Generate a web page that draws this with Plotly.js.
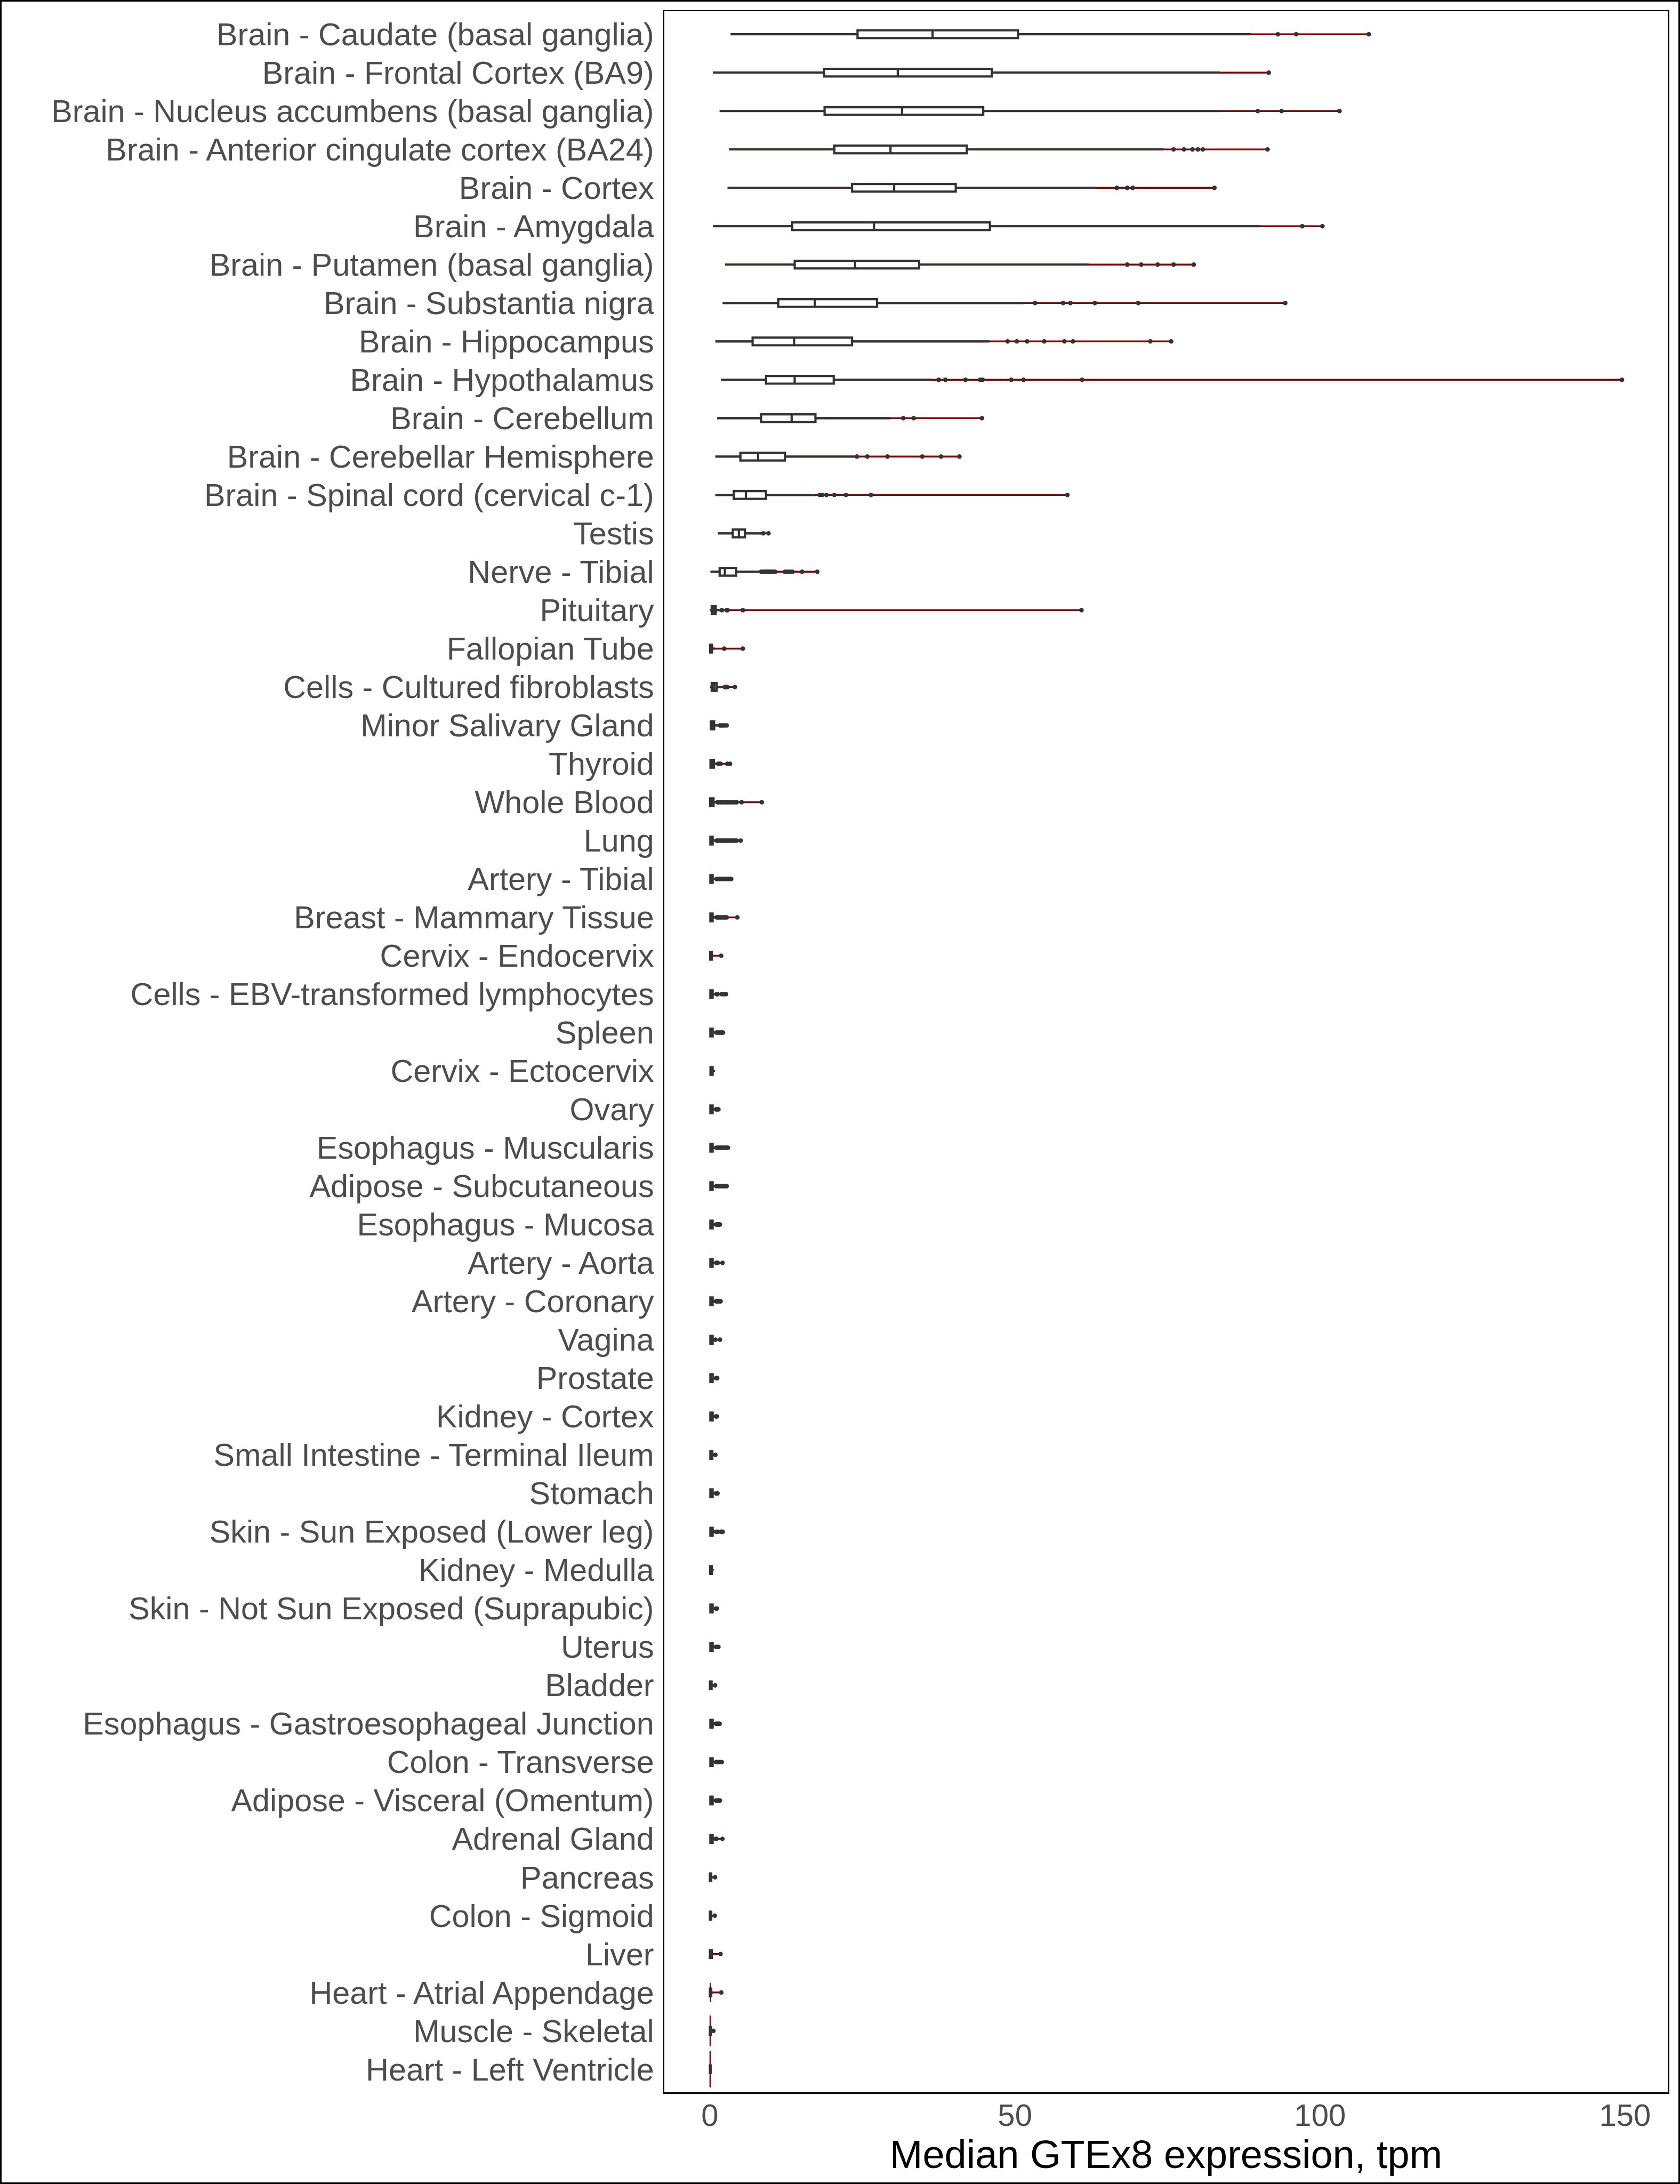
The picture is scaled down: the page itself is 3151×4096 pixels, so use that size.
<!DOCTYPE html>
<html>
<head>
<meta charset="utf-8">
<script src="https://cdn.plot.ly/plotly-3.0.1.min.js"></script>
<style>
html, body { margin: 0; padding: 0; background: #ffffff; }
#chart { width: 3151px; height: 4096px; }
</style>
</head>
<body>
<div id="chart"></div>
<script>
// ---------------- data ----------------
const tissues = [
  "Brain - Caudate (basal ganglia)",
  "Brain - Frontal Cortex (BA9)",
  "Brain - Nucleus accumbens (basal ganglia)",
  "Brain - Anterior cingulate cortex (BA24)",
  "Brain - Cortex",
  "Brain - Amygdala",
  "Brain - Putamen (basal ganglia)",
  "Brain - Substantia nigra",
  "Brain - Hippocampus",
  "Brain - Hypothalamus",
  "Brain - Cerebellum",
  "Brain - Cerebellar Hemisphere",
  "Brain - Spinal cord (cervical c-1)",
  "Testis",
  "Nerve - Tibial",
  "Pituitary",
  "Fallopian Tube",
  "Cells - Cultured fibroblasts",
  "Minor Salivary Gland",
  "Thyroid",
  "Whole Blood",
  "Lung",
  "Artery - Tibial",
  "Breast - Mammary Tissue",
  "Cervix - Endocervix",
  "Cells - EBV-transformed lymphocytes",
  "Spleen",
  "Cervix - Ectocervix",
  "Ovary",
  "Esophagus - Muscularis",
  "Adipose - Subcutaneous",
  "Esophagus - Mucosa",
  "Artery - Aorta",
  "Artery - Coronary",
  "Vagina",
  "Prostate",
  "Kidney - Cortex",
  "Small Intestine - Terminal Ileum",
  "Stomach",
  "Skin - Sun Exposed (Lower leg)",
  "Kidney - Medulla",
  "Skin - Not Sun Exposed (Suprapubic)",
  "Uterus",
  "Bladder",
  "Esophagus - Gastroesophageal Junction",
  "Colon - Transverse",
  "Adipose - Visceral (Omentum)",
  "Adrenal Gland",
  "Pancreas",
  "Colon - Sigmoid",
  "Liver",
  "Heart - Atrial Appendage",
  "Muscle - Skeletal",
  "Heart - Left Ventricle"
];

const minVal = [3.4, 0.5, 1.6, 3.1, 2.9, 0.5, 2.5, 2.1, 0.9, 1.8,
  1.2, 0.9, 0.9, 1.3, 0.1, 0.0, 0.0, 0.05, 0.0, 0.0,
  0.0, 0.0, 0.0, 0.0, 0.0, 0.0, 0.0, 0.0, 0.0, 0.0,
  0.0, 0.0, 0.0, 0.0, 0.0, 0.0, 0.0, 0.0, 0.0, 0.0,
  0.0, 0.0, 0.0, 0.0, 0.0, 0.0, 0.0, 0.0, 0.0, 0.0,
  0.0, 0.0, 0.0, 0.0];

const q1Val = [24.2, 18.7, 18.8, 20.4, 23.3, 13.5, 13.9, 11.2, 7.0, 9.2,
  8.4, 5.0, 3.9, 3.75, 1.6, 0.3, 0.05, 0.3, 0.15, 0.1,
  0.05, 0.08, 0.08, 0.08, 0.05, 0.08, 0.08, 0.1, 0.08, 0.08,
  0.08, 0.08, 0.08, 0.08, 0.08, 0.08, 0.08, 0.08, 0.08, 0.08,
  0.05, 0.08, 0.08, 0.02, 0.08, 0.08, 0.08, 0.08, 0.0, 0.0,
  0.0, 0.0, 0.0, 0.0];

const medianVal = [36.5, 30.8, 31.5, 29.6, 30.2, 26.9, 23.8, 17.2, 13.8, 13.9,
  13.4, 7.9, 5.9, 4.75, 2.45, 0.6, 0.15, 0.7, 0.4, 0.35,
  0.25, 0.25, 0.25, 0.25, 0.15, 0.25, 0.25, 0.25, 0.25, 0.25,
  0.25, 0.25, 0.25, 0.25, 0.25, 0.25, 0.25, 0.22, 0.25, 0.25,
  0.15, 0.25, 0.25, 0.12, 0.25, 0.25, 0.25, 0.25, 0.08, 0.08,
  0.1, 0.08, 0.05, 0.04];

const q3Val = [50.5, 46.2, 44.8, 42.1, 40.3, 45.9, 34.3, 27.4, 23.3, 20.3,
  17.3, 12.3, 9.2, 5.75, 4.3, 0.95, 0.35, 1.1, 0.7, 0.65,
  0.6, 0.45, 0.45, 0.45, 0.3, 0.45, 0.45, 0.45, 0.45, 0.45,
  0.45, 0.45, 0.45, 0.45, 0.45, 0.45, 0.45, 0.4, 0.45, 0.45,
  0.3, 0.45, 0.45, 0.28, 0.45, 0.45, 0.45, 0.45, 0.22, 0.22,
  0.3, 0.22, 0.15, 0.12];

const upperWhisker = [88.6, 83.6, 83.6, 74.4, 63.3, 90.2, 62.1, 51.4, 45.8, 36.3,
  29.6, 23.7, 17.3, 8.4, 8.1, 1.7, 0.8, 2.3, 1.5, 1.2,
  1.1, 0.95, 0.95, 0.95, 0.55, 0.95, 0.95, 0.75, 0.9, 0.95,
  0.95, 0.9, 0.95, 0.9, 0.8, 0.9, 0.9, 0.7, 0.9, 0.9,
  0.5, 0.9, 0.9, 0.5, 0.9, 0.9, 0.9, 0.8, 0.5, 0.5,
  0.6, 0.5, 0.35, 0.25];

const maxVal = [108.0, 91.6, 103.2, 91.4, 82.7, 100.4, 79.3, 94.3, 75.6, 149.5,
  44.6, 40.9, 58.6, 9.6, 17.6, 60.9, 5.4, 4.1, 2.75, 3.3,
  8.5, 5.05, 3.5, 4.5, 1.85, 2.64, 2.15, 0.85, 1.4, 2.95,
  2.75, 1.65, 2.07, 1.75, 1.66, 1.2, 1.15, 0.9, 1.25, 2.1,
  0.62, 1.15, 1.4, 0.85, 1.6, 1.95, 1.65, 2.05, 0.85, 0.8,
  1.74, 1.87, 0.57, 0.3];

const outlierVals = [
  [93.1, 96.1, 108.0],
  [91.6],
  [89.8, 93.7, 103.2],
  [76.0, 77.7, 79.1, 80.0, 80.8, 91.4],
  [66.7, 68.4, 69.3, 82.7],
  [97.1, 100.4],
  [68.4, 70.7, 73.4, 76.0, 79.3],
  [53.3, 57.9, 59.1, 63.1, 70.2, 94.3],
  [48.8, 50.3, 52.0, 54.8, 58.1, 59.5, 72.2, 75.6],
  [37.5, 38.6, 41.9, 44.3, 44.7, 49.4, 51.4, 61.0, 149.5],
  [31.7, 33.4, 44.6],
  [24.1, 25.8, 29.1, 34.8, 37.9, 40.9],
  [18.0, 18.4, 19.1, 20.4, 22.3, 26.4, 58.6],
  [8.75, 9.6],
  [8.4, 8.8, 9.1, 9.4, 9.7, 10.0, 10.3, 10.7, 12.3, 12.7, 13.1, 13.5, 15.1, 17.6],
  [1.95, 2.75, 2.9, 5.4, 60.9],
  [2.35, 5.4],
  [2.45, 2.65, 2.85, 4.1],
  [1.65, 1.9, 2.15, 2.45, 2.75],
  [1.35, 1.55, 1.75, 2.85, 3.3],
  [1.25, 1.45, 1.7, 1.9, 2.1, 2.35, 2.55, 2.8, 3.0, 3.25, 3.5, 3.7, 3.95, 4.2, 4.4, 5.2, 8.5],
  [1.1, 1.3, 1.5, 1.75, 1.95, 2.15, 2.4, 2.6, 2.8, 3.05, 3.25, 3.5, 3.7, 3.9, 4.15, 4.4, 5.05],
  [1.1, 1.3, 1.5, 1.7, 1.95, 2.15, 2.4, 2.6, 2.85, 3.05, 3.25, 3.5],
  [1.1, 1.3, 1.5, 1.7, 1.9, 2.1, 2.35, 2.55, 2.75, 4.5],
  [1.85],
  [1.1, 1.27, 1.94, 2.3, 2.64],
  [1.05, 1.25, 1.45, 1.65, 1.85, 2.0, 2.15],
  [],
  [1.0, 1.15, 1.28, 1.4],
  [1.05, 1.25, 1.45, 1.65, 1.85, 2.05, 2.25, 2.45, 2.65, 2.8, 2.95],
  [1.05, 1.25, 1.45, 1.65, 1.85, 2.05, 2.25, 2.45, 2.6, 2.75],
  [1.0, 1.15, 1.3, 1.45, 1.55, 1.65],
  [1.05, 1.15, 1.3, 2.07],
  [1.0, 1.15, 1.3, 1.45, 1.6, 1.75],
  [0.9, 1.66],
  [1.0, 1.1, 1.2],
  [1.0, 1.15],
  [0.9],
  [1.0, 1.12, 1.25],
  [1.0, 1.35, 1.8, 2.1],
  [],
  [1.0, 1.15],
  [1.0, 1.2, 1.4],
  [0.85],
  [1.0, 1.15, 1.3, 1.45, 1.6],
  [1.0, 1.2, 1.4, 1.65, 1.95],
  [1.0, 1.15, 1.3, 1.45, 1.65],
  [0.95, 1.1, 2.05],
  [0.85],
  [0.8],
  [1.74],
  [1.87],
  [0.57],
  []
];

// half-height of the violin's density peak, in row units (only visible where it exceeds the box)
const violinPeak = [0,0,0,0,0,0,0,0,0,0, 0,0,0,0,0,0,0,0,0,0,
  0,0,0,0,0,0,0,0,0,0, 0,0,0,0,0,0,0,0,0,0,
  0,0,0,0,0,0,0,0,0,0.14, 0.13,0.25,0.40,0.47];

const xTickVals = [0, 50, 100, 150];
const xTickText = ["0", "50", "100", "150"];
const xTitle = "Median GTEx8 expression, tpm";

// ---------------- styling / layout constants ----------------
const W = 3151, H = 4096;
const M = { l: 1246, r: 23, t: 21, b: 172 };
const DARK = "#333333";
const RED = "#8B0000";
const FONT = '"Liberation Sans", Arial, Helvetica, sans-serif';

const pos = tissues.map((_, i) => i);
const traces = [];

// red violin "spine": min -> max
traces.push({
  type: "box", orientation: "h", y: pos,
  q1: medianVal, median: medianVal, q3: medianVal,
  lowerfence: minVal, upperfence: maxVal,
  width: 0.002, whiskerwidth: 0, boxpoints: false,
  line: { color: RED, width: 3.5 }, fillcolor: RED,
  hoverinfo: "skip", showlegend: false
});

// red violin density peaks (tall near-zero distributions)
pos.forEach(i => {
  if (violinPeak[i] > 0) {
    traces.push({
      type: "box", orientation: "h", y: [i],
      q1: [medianVal[i]], median: [medianVal[i]], q3: [medianVal[i]],
      lowerfence: [medianVal[i]], upperfence: [medianVal[i]],
      width: 2 * violinPeak[i], whiskerwidth: 0, boxpoints: false,
      line: { color: RED, width: 2.5 }, fillcolor: RED,
      hoverinfo: "skip", showlegend: false
    });
  }
});

// boxplots
traces.push({
  type: "box", orientation: "h", y: pos,
  q1: q1Val, median: medianVal, q3: q3Val,
  lowerfence: minVal, upperfence: upperWhisker,
  width: 0.2, whiskerwidth: 0, boxpoints: false,
  line: { color: DARK, width: 4.2 }, fillcolor: "#ffffff",
  hoverinfo: "skip", showlegend: false
});

// outliers
const ox = [], oy = [];
outlierVals.forEach((arr, i) => arr.forEach(v => { ox.push(v); oy.push(i); }));
traces.push({
  type: "scatter", mode: "markers", x: ox, y: oy,
  marker: { color: DARK, size: 8.5, line: { width: 0 } },
  hoverinfo: "skip", showlegend: false
});

const plotW = W - M.l - M.r, plotH = H - M.t - M.b;
const layout = {
  width: W, height: H,
  margin: { l: M.l, r: M.r, t: M.t, b: M.b, pad: 0 },
  paper_bgcolor: "#ffffff", plot_bgcolor: "#ffffff",
  showlegend: false,
  font: { family: FONT, color: "#000000" },
  boxmode: "overlay",
  xaxis: {
    range: [-7.47, 157.0], tickmode: "array", tickvals: xTickVals, ticktext: xTickText,
    showgrid: false, zeroline: false, showline: true, mirror: true,
    linecolor: "#000000", linewidth: 2.5, ticks: "",
    tickfont: { family: FONT, size: 58, color: "#4D4D4D" },
    ticklabelstandoff: -9,
    title: { text: xTitle, font: { family: FONT, size: 74, color: "#000000" }, standoff: 10 },
    automargin: false, fixedrange: true
  },
  yaxis: {
    range: [tissues.length - 1 + 0.6, -0.6], tickmode: "array", tickvals: pos, ticktext: tissues,
    showgrid: false, zeroline: false, showline: true, mirror: true,
    linecolor: "#000000", linewidth: 2.5, ticks: "",
    tickfont: { family: FONT, size: 59.3, color: "#4D4D4D" },
    ticklabelstandoff: 5,
    automargin: false, fixedrange: true
  },
  shapes: [{
    type: "rect", xref: "paper", yref: "paper", layer: "above",
    x0: (1.5 - M.l) / plotW, x1: (W - M.l - 1.5) / plotW,
    y0: (1.5 - M.b) / plotH, y1: 1 + (M.t - 1.5) / plotH,
    line: { color: "#000000", width: 3 }, fillcolor: "rgba(0,0,0,0)"
  }]
};

Plotly.newPlot("chart", traces, layout, { staticPlot: true, displayModeBar: false });
</script>
</body>
</html>
